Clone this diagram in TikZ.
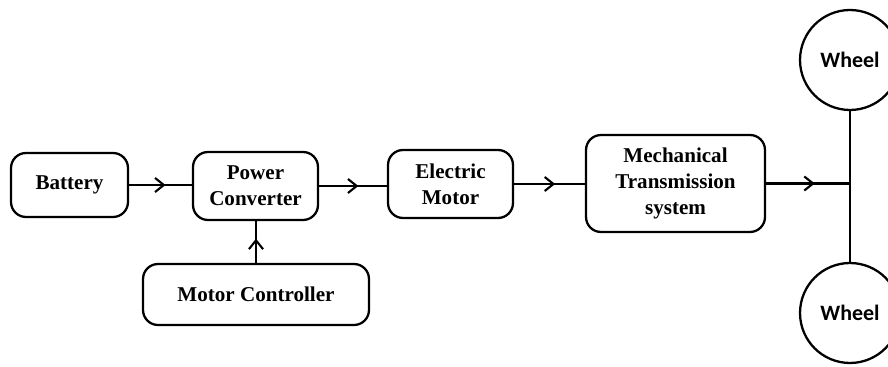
\documentclass[tikz,border=0pt]{standalone}
\usepackage{fontspec}
\setmainfont{Liberation Serif}
\newfontfamily\wheelfont{Carlito}
\usetikzlibrary{arrows.meta,decorations.markings}
\begin{document}
\begin{tikzpicture}[
    x=0.02cm, y=-0.02cm,
    block/.style={draw, line width=1.3pt, rounded corners=0.3cm, align=center,
                  font=\fontsize{12}{15}\selectfont\bfseries, inner sep=2pt},
    wheel/.style={draw, circle, line width=1.3pt, minimum size=2cm, inner sep=0pt,
                  font=\wheelfont\fontsize{12.5}{15}\selectfont\bfseries},
    flow/.style={line width=1.3pt, postaction={decorate},
                 decoration={markings, mark=at position 0.58 with
                   {\arrow{Straight Barb[length=5pt,width=8pt,line width=1.2pt]}}}},
    link/.style={line width=1.3pt}
]
  \useasboundingbox (0,0) rectangle (888,367);

  % Blocks
  \node[block, minimum width=2.34cm, minimum height=1.28cm] (battery) at (69.5,185) {Battery};
  \node[block, minimum width=2.5cm,  minimum height=1.36cm] (conv)    at (255.5,186) {Power\\Converter};
  \node[block, minimum width=4.52cm, minimum height=1.22cm] (ctrl)    at (256,294.5) {Motor Controller};
  \node[block, minimum width=2.5cm,  minimum height=1.36cm] (motor)   at (450.5,184) {Electric\\Motor};
  \node[block, minimum width=3.58cm, minimum height=1.94cm] (trans)   at (675.5,183.5) {Mechanical\\Transmission\\system};

  % Wheels
  \node[wheel] (wtop) at (850,60)  {Wheel};
  \node[wheel] (wbot) at (850,313) {Wheel};
  \coordinate (axle) at (850,183.5);

  % Connections
  \draw[flow] (battery.east) -- (battery.east -| conv.west);
  \draw[flow] (conv.east) -- (conv.east -| motor.west);
  \draw[flow] (motor.east) -- (motor.east -| trans.west);
  \draw[flow] (ctrl.north) -- (ctrl.north |- conv.south);
  \draw[flow] (trans.east) -- (axle);
  \draw[link] (wtop.south) -- (wbot.north);
\end{tikzpicture}
\end{document}
